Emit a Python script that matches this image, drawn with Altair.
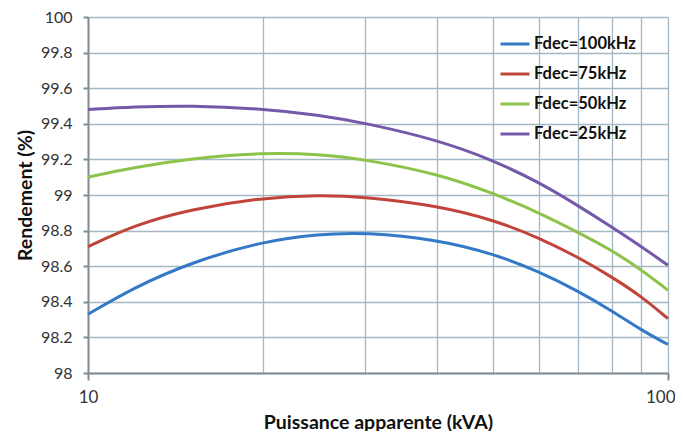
import altair as alt
import pandas as pd

# Data
puissance = [10, 12, 15, 20, 25, 30, 40, 50, 60, 70, 80, 90, 100]
series = ["Fdec=100kHz", "Fdec=75kHz", "Fdec=50kHz", "Fdec=25kHz"]
rend_100k = [98.33, 98.48, 98.62, 98.74, 98.78, 98.79, 98.75, 98.67, 98.57, 98.46, 98.35, 98.24, 98.16]
rend_75k = [98.71, 98.83, 98.92, 98.985, 99.0, 98.99, 98.94, 98.86, 98.76, 98.65, 98.54, 98.43, 98.305]
rend_50k = [99.10, 99.155, 99.205, 99.238, 99.23, 99.20, 99.12, 99.01, 98.90, 98.79, 98.69, 98.58, 98.465]
rend_25k = [99.48, 99.495, 99.503, 99.485, 99.45, 99.405, 99.31, 99.195, 99.07, 98.94, 98.82, 98.71, 98.605]
colors = ["#3479C6", "#C0443A", "#8DC34A", "#7558AA"]
x_grid = [10, 20, 30, 40, 50, 60, 70, 80, 90, 100]
y_ticks = [98, 98.2, 98.4, 98.6, 98.8, 99, 99.2, 99.4, 99.6, 99.8, 100]

rows = []
for name, vals in zip(series, [rend_100k, rend_75k, rend_50k, rend_25k]):
    for p, v in zip(puissance, vals):
        rows.append({"Puissance": p, "Rendement": v, "Serie": name})
df = pd.DataFrame(rows)

FONT = "Lato"
GRID = "#a3b8c4"
AXIS = "#7f8d95"

chart = alt.Chart(df).mark_line(strokeWidth=3, interpolate="basis").encode(
    x=alt.X(
        "Puissance:Q",
        scale=alt.Scale(type="log", domain=[10, 100], nice=False),
        axis=alt.Axis(
            values=x_grid,
            title="Puissance apparente (kVA)",
            labelExpr="datum.value == 10 || datum.value == 100 ? datum.label : ''",
            tickOpacity=alt.condition("datum.value == 10 || datum.value == 100", alt.value(1), alt.value(0)),
            labelAlign=alt.condition("datum.value == 100", alt.value("right"), alt.value("center")),
            labelOffset=alt.condition("datum.value == 100", alt.value(7), alt.value(0)),
            tickSize=7,
            labelPadding=9,
            titlePadding=8,
        ),
    ),
    y=alt.Y(
        "Rendement:Q",
        scale=alt.Scale(domain=[98, 100], nice=False, zero=False),
        axis=alt.Axis(
            values=y_ticks,
            format=".1~f",
            title="Rendement (%)",
            tickSize=5,
            labelPadding=11,
            labelFontSize=16,
            titlePadding=5,
        ),
    ),
    color=alt.Color(
        "Serie:N",
        sort=series,
        scale=alt.Scale(domain=series, range=colors),
        legend=alt.Legend(
            title=None,
            orient="none",
            legendX=411,
            legendY=11,
            symbolType="stroke",
            symbolSize=841,
            symbolStrokeWidth=3,
            labelFont=FONT,
            labelFontWeight="bold",
            labelFontSize=16.5,
            labelColor="#111111",
            labelOffset=3,
            rowPadding=5,
            padding=0,
        ),
    ),
).properties(
    width=580,
    height=356,
    autosize=alt.AutoSizeParams(type="none"),
    padding={"left": 80, "top": 9, "right": 7, "bottom": 58},
).configure_view(
    stroke=None
).configure_axis(
    gridColor=GRID,
    gridWidth=1.3,
    domainColor=AXIS,
    domainWidth=2,
    tickColor=AXIS,
    tickWidth=2,
    labelFont=FONT,
    labelFontSize=17,
    labelColor="#333333",
    titleFont=FONT,
    titleFontSize=19.5,
    titleFontWeight="bold",
    titleColor="#111111",
)

chart.save("out.html", embed_options={"renderer": "svg", "actions": False})
